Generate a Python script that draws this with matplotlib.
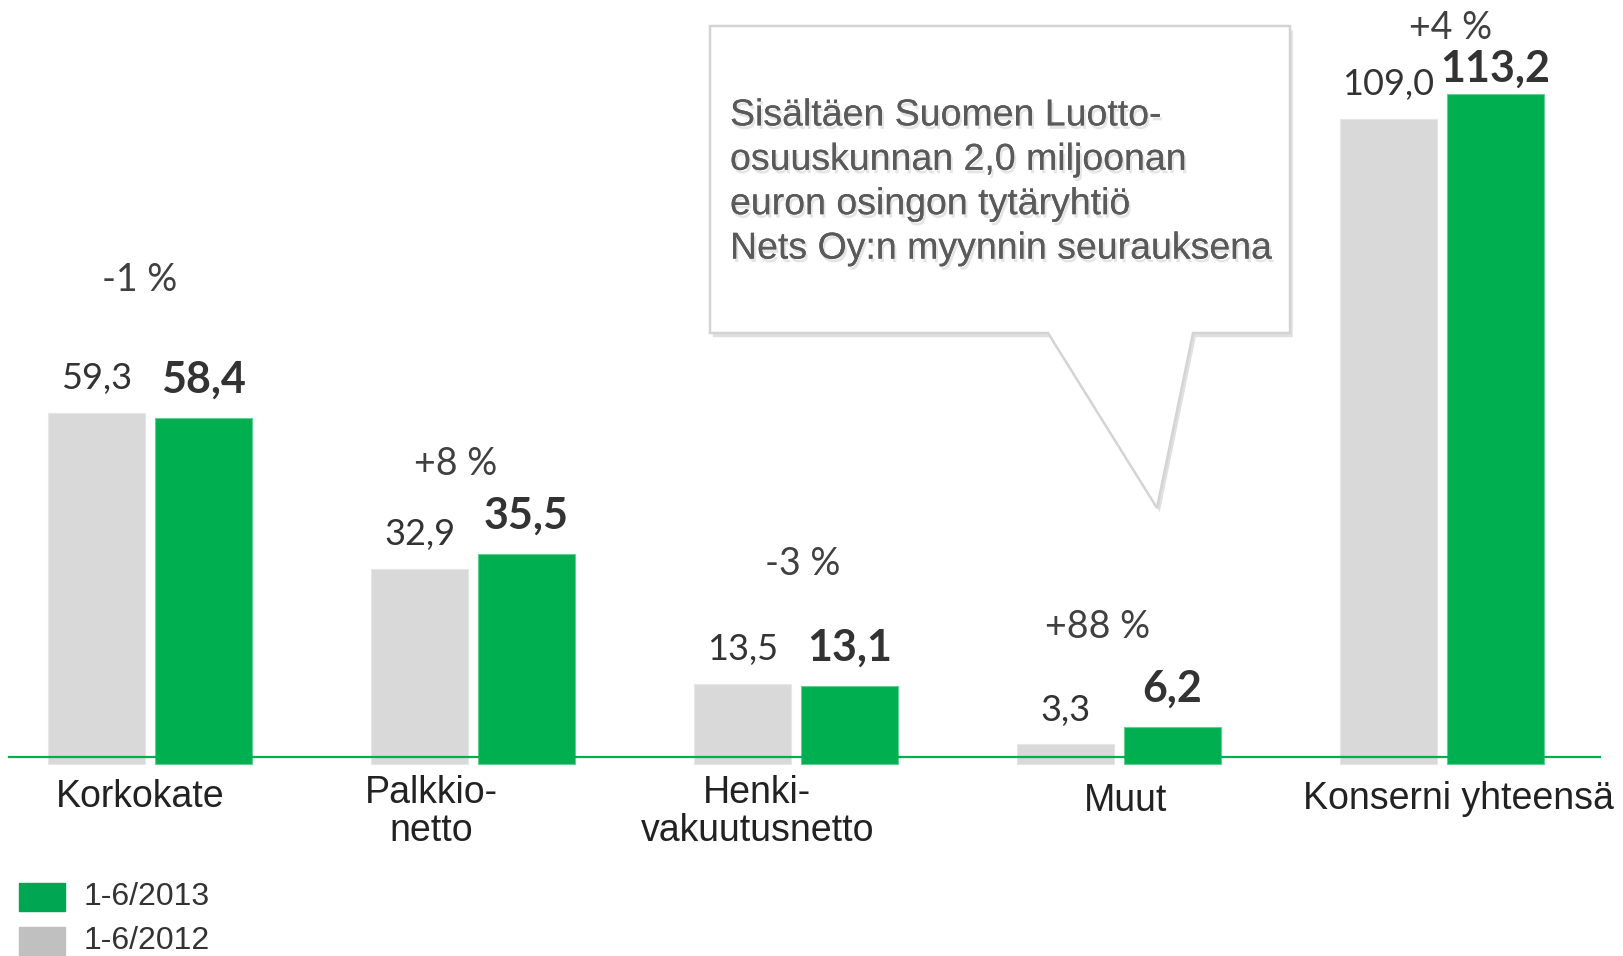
import matplotlib
matplotlib.use("Agg")
import matplotlib.pyplot as plt
import matplotlib.patheffects as pe
from matplotlib.patches import Polygon, Rectangle
import numpy as np

categories = ["Korkokate", "Palkkio-\nnetto", "Henki-\nvakuutusnetto", "Muut", "Konserni yhteensä"]
values_2012 = [59.3, 32.9, 13.5, 3.3, 109.0]
values_2013 = [58.4, 35.5, 13.1, 6.2, 113.2]
changes = ["-1 %", "+8 %", "-3 %", "+88 %", "+4 %"]
legend_labels = ["1-6/2013", "1-6/2012"]
note = ("Sisältäen Suomen Luotto-\nosuuskunnan 2,0 miljoonan\n"
        "euron osingon tytäryhtiö\nNets Oy:n myynnin seurauksena")

# layout only (not data)
pct_y = [81.8, 50.7, 33.8, 23.1, 124.4]
pct_dx = [-0.032, -0.055, 0.022, -0.067, 0.026]
cat_dx = [-0.03, -0.13, -0.12, 0.02, 0.05]
cat_y = [-2.5, -1.9, -1.9, -3.2, -2.8]
bold_gap = [3.1, 3.1, 3.1, 3.1, 0.8]

GREEN = "#00b050"
GREY = "#d9d9d9"
TXT = "#333333"

W, H = 1624, 956
fig = plt.figure(figsize=(W / 100, H / 100), dpi=100)
ax = fig.add_axes([0, 0, 1, 1])
ax.set_xlim(-150 / 323, (W - 150) / 323)
ax.set_ylim(-192 / 5.92, (H - 192) / 5.92)
ax.axis("off")

x = np.arange(len(categories))
off = 0.1656
bw = 0.30
ax.bar(x - off, values_2012, width=bw, color=GREY, edgecolor="#e6e6e6", linewidth=0.8, zorder=2)
ax.bar(x + off, values_2013, width=bw, color=GREEN, edgecolor="#5fd08f", linewidth=0.8, zorder=2)
ax.plot([-0.436, 4.49], [1.2, 1.2], color=GREEN, lw=1.6, zorder=3)

def fmt(v):
    return f"{v:.1f}".replace(".", ",")

for i in range(len(categories)):
    ax.text(x[i] - off, values_2012[i] + 3.0, fmt(values_2012[i]), ha="center", va="bottom",
            fontsize=26, family="Lato", color=TXT)
    ax.text(x[i] + off, values_2013[i] + bold_gap[i], fmt(values_2013[i]), ha="center", va="bottom",
            fontsize=31, family="Lato", fontweight="bold", color=TXT)
    ax.text(x[i] + pct_dx[i], pct_y[i], changes[i], ha="center", va="center",
            fontsize=27, family="Lato", color="#404040")
    ax.text(x[i] + cat_dx[i], cat_y[i], categories[i], ha="center", va="top",
            fontsize=27, family="Liberation Sans", color="#222222", linespacing=1.05)

# callout bubble
pts = [(710, 26), (1290, 26), (1290, 333), (1193, 333), (1157, 508), (1048, 333), (710, 333)]
poly = Polygon([(px / W, 1 - py / H) for px, py in pts], closed=True, transform=fig.transFigure,
               facecolor="white", edgecolor="#d4d4d4", lw=1.8, zorder=5,
               path_effects=[pe.withSimplePatchShadow(offset=(2, -3), shadow_rgbFace="#999999", alpha=0.3)])
fig.patches.append(poly)
fig.text(730 / W, 1 - 182 / H, note, ha="left", va="center", fontsize=27,
         family="Liberation Sans", color="#5a5a5a", linespacing=1.3, zorder=6,
         path_effects=[pe.withSimplePatchShadow(offset=(1.5, -2.5), shadow_rgbFace="#999999", alpha=0.25),
                       pe.Normal()])

# legend
for j, (lab, col) in enumerate(zip(legend_labels, ["#00a651", "#c0c0c0"])):
    y0 = 883 + j * 44
    fig.patches.append(Rectangle((19 / W, 1 - (y0 + 28) / H), 46 / W, 28 / H,
                                 transform=fig.transFigure, color=col))
    fig.text(84 / W, 1 - (y0 + 14) / H, lab, ha="left", va="center", fontsize=23,
             family="Liberation Sans", color=TXT)

fig.savefig("out.png", dpi=100)
